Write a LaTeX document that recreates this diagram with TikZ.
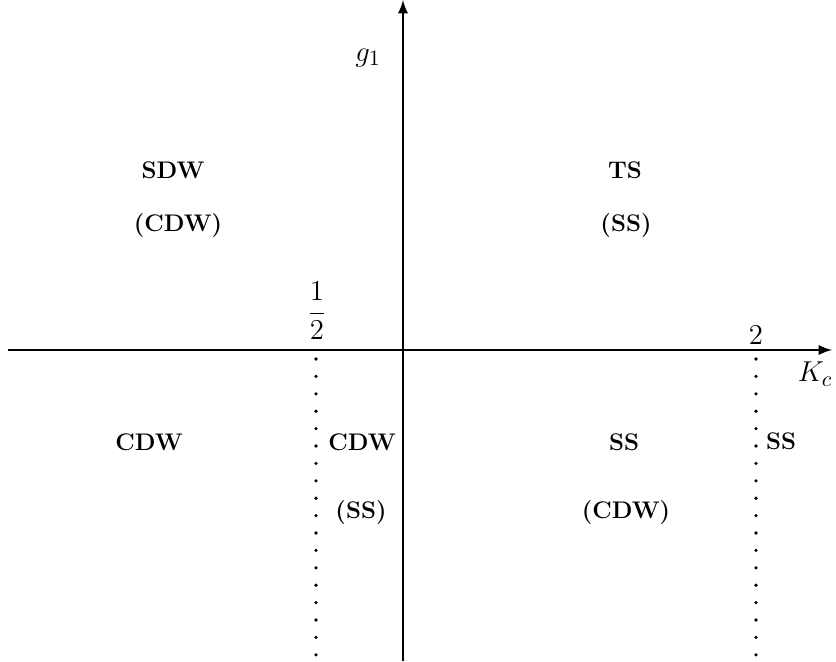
\documentclass[tikz,border=0pt]{standalone}
\usepackage{xcolor}
\usepackage{tikz}
\usetikzlibrary{positioning}

\begin{document}
\begin{tikzpicture}[x=0.5pt, y=-0.5pt, >=latex,
        axis/.style={line width=1.3pt, ->},
        bound/.style={line width=1.8pt, dash pattern=on 0pt off 8.7pt, line cap=round},
        phase/.style={font=\bfseries\large, inner sep=0pt},
        lab/.style={font=\fontsize{15}{18}\selectfont, inner sep=0pt}]
        \useasboundingbox (0,0) rectangle (836,661);

        % axes
        \coordinate (xl) at (8,350);
        \coordinate (xr) at (832,350);
        \coordinate (yb) at (403,661);
        \coordinate (yt) at (403,0);
        \draw[axis] (xl) -- (xr);
        \draw[axis] (yb) -- (yt);

        % boundaries
        \coordinate (ha) at (316,359);
        \coordinate (hb) at (316,661);
        \coordinate (ta) at (756,359);
        \coordinate (tb) at (756,661);
        \draw[bound] (ha) -- (hb);
        \draw[bound] (ta) -- (tb);

        % axis labels
        \node[lab] (g1) at (368,58) {$g_1$};
        \node[lab] (kc) at (815,374) {$K_c$};
        \node[lab] (half) at (317,311) {$\displaystyle\frac{1}{2}$};
        \node[lab] (two) at (756,335) {$2$};

        % phases
        \node[phase] (sdw) at (173,170) {SDW};
        \node[phase] (cdwa) at (178,225) {(CDW)};
        \node[phase] (ts) at (625,170) {TS};
        \node[phase] (ssa) at (626,225) {(SS)};
        \node[phase] (cdwb) at (149,442) {CDW};
        \node[phase] (cdwc) at (362,442) {CDW};
        \node[phase] (ssb) at (361,512) {(SS)};
        \node[phase] (ssc) at (624,442) {SS};
        \node[phase] (cdwd) at (626,512) {(CDW)};
        \node[phase] (ssd) at (781,441) {SS};
    \end{tikzpicture}
\end{document}
